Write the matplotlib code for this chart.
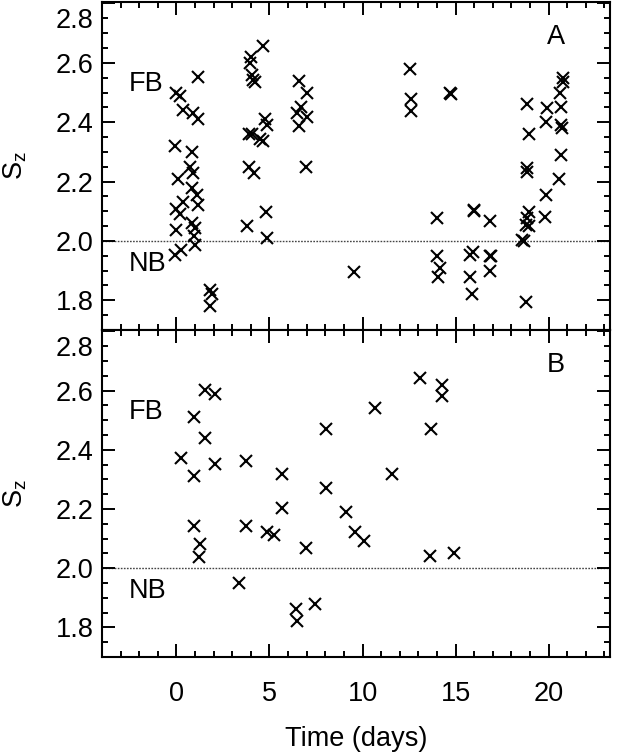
import matplotlib
matplotlib.use("Agg")
import matplotlib.pyplot as plt
from matplotlib.ticker import MultipleLocator, FuncFormatter

plt.rcParams['font.family'] = ['Liberation Sans', 'DejaVu Sans']

# Panel A data (time in days, S_z)
a_time = [0.00, 0.18, 0.36, 0.90, 1.17, 1.17, -0.09, 0.81, 0.72, 0.87, 0.09, 0.81,
          1.08, 0.36, 1.17, 0.00, 0.18, 0.81, 1.00, 0.00, 0.95, 1.00, 0.27, -0.09,
          1.80, 1.90, 1.80,
          4.66, 4.00, 3.97, 4.06, 4.11, 4.20, 4.78, 4.87, 3.88, 4.06, 4.51, 4.66,
          3.88, 4.15, 4.84, 3.79, 4.87,
          6.58, 7.00, 6.68, 6.50, 7.00, 6.58, 6.95,
          9.56,
          12.54, 12.63, 12.60,
          14.71, 14.76,
          13.98, 13.98, 14.16, 14.08,
          15.97, 16.00, 16.84, 15.79, 15.93, 16.85, 16.90, 16.87, 15.79, 15.88,
          20.77, 20.75, 20.63, 18.86, 19.94, 20.66, 19.87, 20.66, 20.70, 18.95,
          20.66, 18.86, 18.82, 20.57, 19.85, 18.95, 19.80, 18.86, 18.77, 18.95,
          18.59, 18.68, 18.77]
a_sz = [2.497, 2.489, 2.440, 2.430, 2.410, 2.551, 2.320, 2.300, 2.250, 2.230, 2.210, 2.180,
        2.154, 2.130, 2.120, 2.106, 2.092, 2.060, 2.045, 2.037, 2.015, 1.988, 1.970, 1.952,
        1.836, 1.820, 1.780,
        2.658, 2.620, 2.599, 2.560, 2.542, 2.535, 2.410, 2.390, 2.359, 2.359, 2.345, 2.338,
        2.250, 2.230, 2.098, 2.050, 2.010,
        2.539, 2.499, 2.450, 2.430, 2.418, 2.388, 2.250,
        1.897,
        2.579, 2.479, 2.438,
        2.500, 2.495,
        2.078, 1.950, 1.908, 1.878,
        2.104, 2.100, 2.067, 1.953, 1.964, 1.950, 1.950, 1.900, 1.877, 1.820,
        2.550, 2.535, 2.500, 2.460, 2.448, 2.452, 2.400, 2.389, 2.381, 2.360,
        2.289, 2.247, 2.233, 2.209, 2.156, 2.098, 2.080, 2.076, 2.054, 2.051,
        2.003, 2.000, 1.796]

# Panel B data
b_time = [1.53, 2.07, 0.92, 1.53, 0.27, 2.07, 3.74, 0.92, 5.68, 8.03, 8.03, 5.68,
          0.92, 3.74, 4.87, 5.23, 1.24, 1.22, 6.95, 3.34, 7.45, 6.40, 6.46,
          9.11, 9.58, 10.07, 10.68, 11.60, 13.08, 14.29, 14.29, 13.68, 13.62, 14.94]
b_sz = [2.601, 2.590, 2.510, 2.440, 2.371, 2.351, 2.361, 2.310, 2.320, 2.472, 2.272, 2.202,
        2.143, 2.141, 2.122, 2.113, 2.083, 2.039, 2.068, 1.951, 1.879, 1.861, 1.823,
        2.191, 2.122, 2.092, 2.541, 2.320, 2.642, 2.620, 2.581, 2.471, 2.040, 2.051]

panels = [("A", a_time, a_sz), ("B", b_time, b_sz)]

fig = plt.figure(figsize=(6.24, 7.56), dpi=100)
left, right = 102 / 624, 610 / 624
tops = [1 - 2 / 756, 1 - 330 / 756]
bots = [1 - 330 / 756, 1 - 657 / 756]

FS = 19.5
for i, (tag, t, s) in enumerate(panels):
    ax = fig.add_axes([left, bots[i], right - left, tops[i] - bots[i]])
    ax.set_xlim(-4, 23.3)
    ax.set_ylim(1.7, 2.805)
    ax.axhline(2.0, color='#444444', lw=1.0, ls=(0, (1.2, 1.0)), zorder=1)
    ax.plot(t, s, ls='none', marker='x', color='black', ms=8.5, mew=1.5, zorder=3)

    ax.xaxis.set_major_locator(MultipleLocator(5))
    ax.xaxis.set_minor_locator(MultipleLocator(1))
    ax.yaxis.set_major_locator(MultipleLocator(0.2))
    ax.yaxis.set_minor_locator(MultipleLocator(0.05))
    ax.tick_params(which='both', direction='in', top=True, right=True, width=1.4,
                   labelsize=FS)
    ax.tick_params(axis='y', which='both', pad=6)
    ax.tick_params(axis='x', which='both', pad=17)
    ax.tick_params(which='major', length=9.5)
    ax.tick_params(which='minor', length=4.5)
    for sp in ax.spines.values():
        sp.set_linewidth(1.5)

    ax.yaxis.set_major_formatter(FuncFormatter(
        lambda v, p: '' if v > 2.79 else f'{v:.1f}'))
    ax.annotate('2.8', xy=(0, 2.8), xycoords=('axes fraction', 'data'),
                xytext=(-6, -3), textcoords='offset points',
                ha='right', va='top', fontsize=FS)

    if i == 0:
        ax.tick_params(labelbottom=False)
    else:
        ax.set_xlabel('Time (days)', fontsize=FS, labelpad=14)

    ax.set_ylabel(r'S$_\mathregular{z}$', fontsize=FS, labelpad=19)
    ax.text(0.894, 0.893, tag, transform=ax.transAxes, fontsize=FS, ha='center', va='center')
    ax.text(-2.55, 2.528, 'FB', fontsize=FS, ha='left', va='center')
    ax.text(-2.55, 1.923, 'NB', fontsize=FS, ha='left', va='center')

fig.savefig('out.png', dpi=100)
